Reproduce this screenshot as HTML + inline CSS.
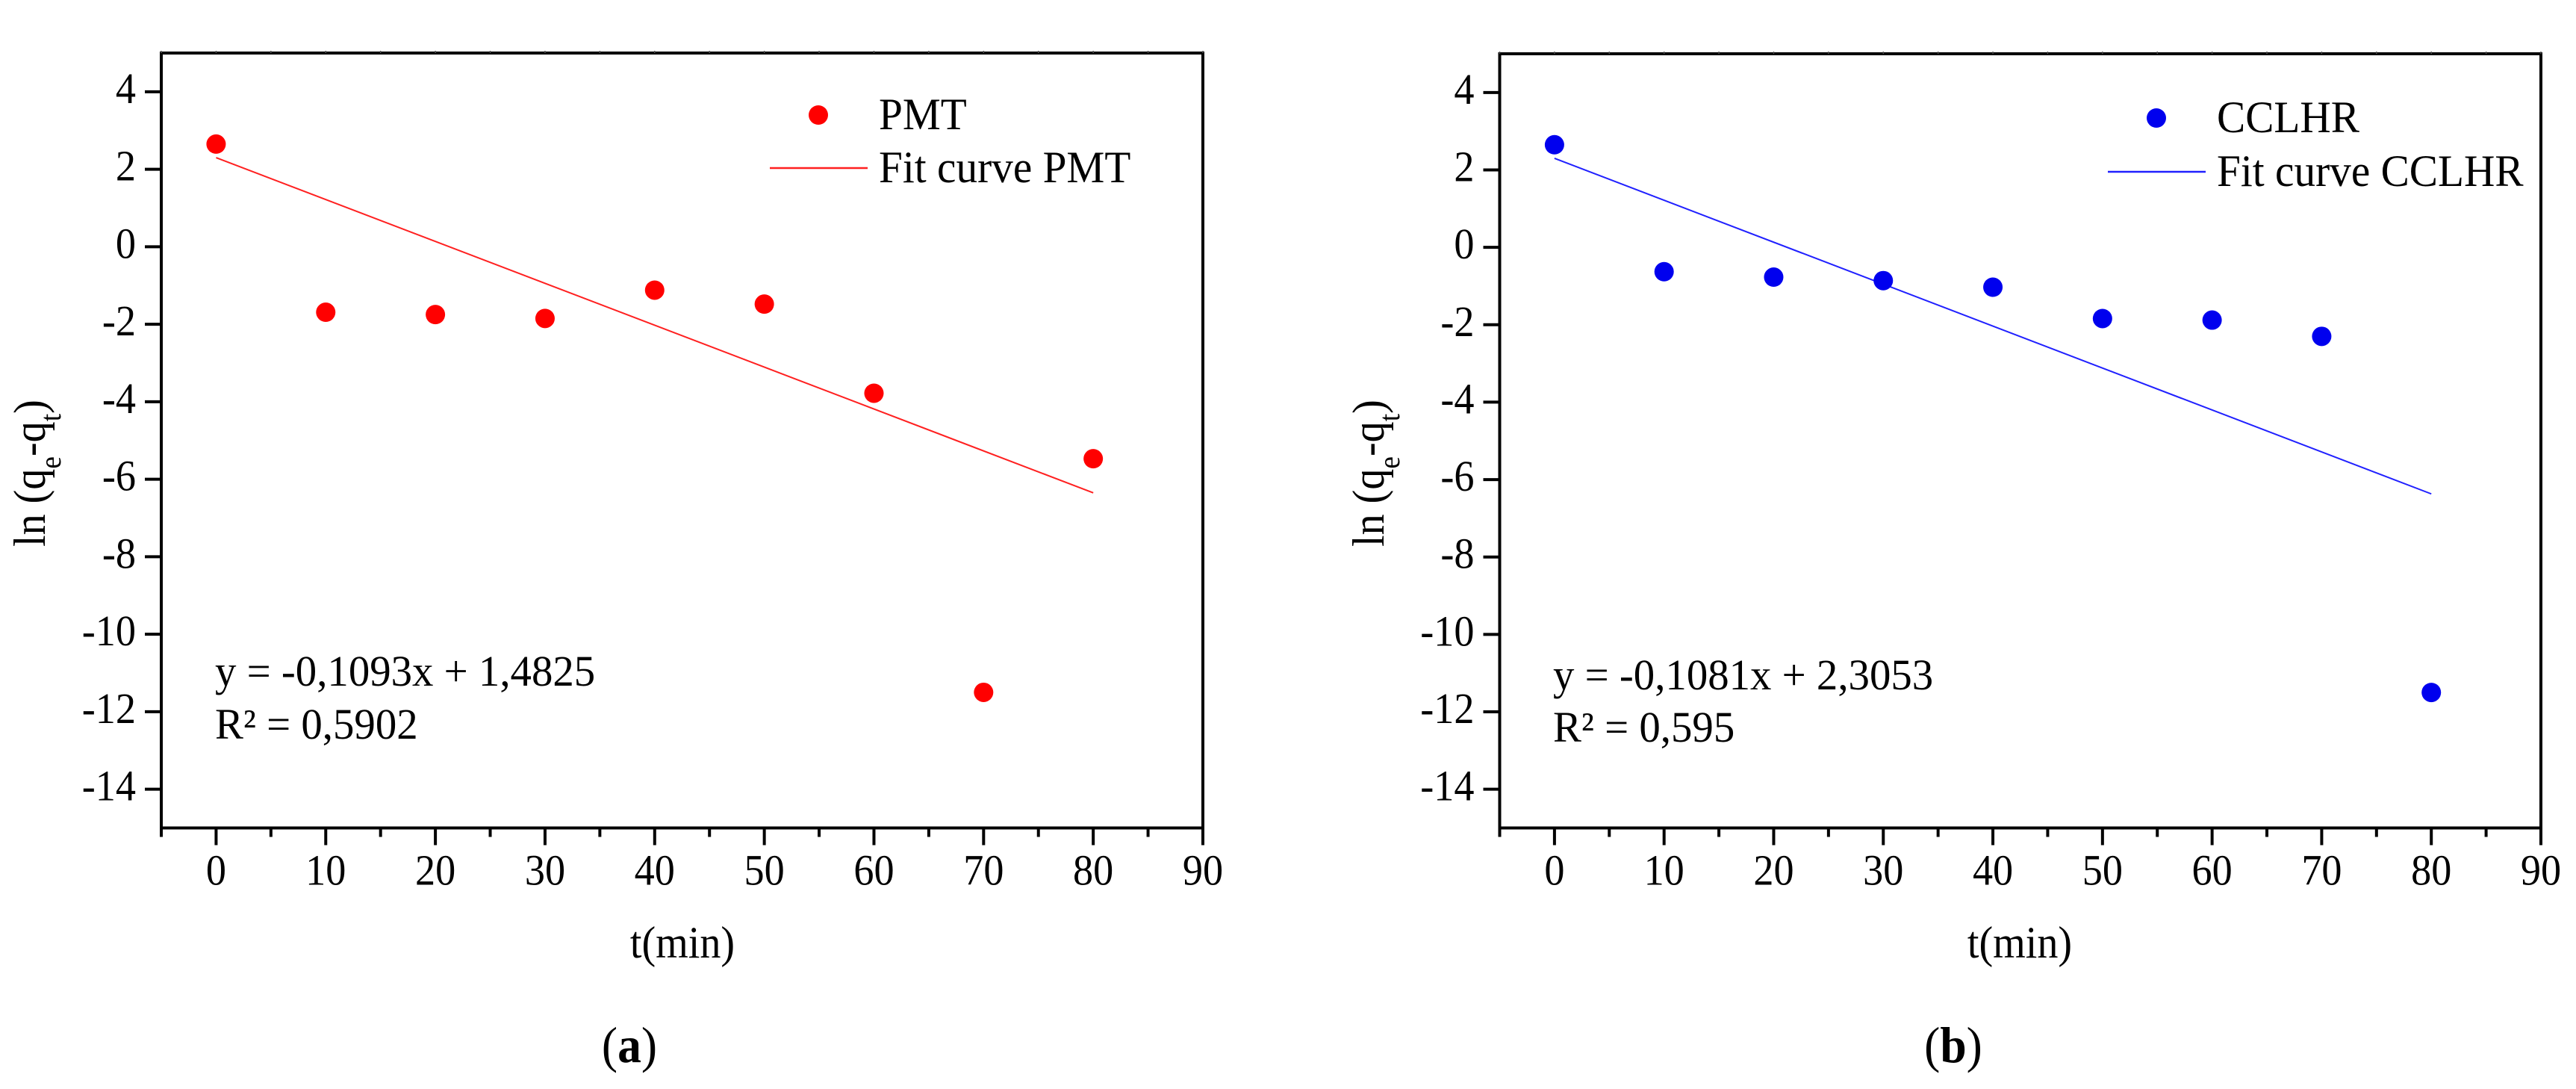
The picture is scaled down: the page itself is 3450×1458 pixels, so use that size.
<!DOCTYPE html>
<html lang="en">
<head>
<meta charset="utf-8">
<title>Pseudo-first-order kinetic fits for PMT and CCLHR</title>
<style>
html,body{margin:0;padding:0;background:#fff;}
body{width:3450px;height:1458px;overflow:hidden;}
svg{display:block;}
text{font-family:"Liberation Serif",serif;fill:#000;}
</style>
</head>
<body>
<svg id="figure" xmlns="http://www.w3.org/2000/svg" width="3450" height="1458" viewBox="0 0 3450 1458"></svg>
<script>
const times = [0, 10, 20, 30, 40, 50, 60, 70, 80];
const pmtValues = [2.65, -1.69, -1.75, -1.85, -1.12, -1.48, -3.78, -11.5, -5.47];
const cclhrValues = [2.65, -0.63, -0.77, -0.86, -1.03, -1.84, -1.88, -2.3, -11.5];
const fitTimes = [0, 80];
const pmtFit = [2.3, -6.35];
const cclhrFit = [2.3, -6.37];
const xTickValues = [-5, 0, 5, 10, 15, 20, 25, 30, 35, 40, 45, 50, 55, 60, 65, 70, 75, 80, 85, 90];
const xTickLabels = ['0', '10', '20', '30', '40', '50', '60', '70', '80', '90'];
const yTickLabels = ['4', '2', '0', '-2', '-4', '-6', '-8', '-10', '-12', '-14'];

const NS = 'http://www.w3.org/2000/svg';
const svg = document.getElementById('figure');
const X_MIN = -5, X_MAX = 90, Y_MIN = -15, Y_MAX = 5;
const SX = 0.935;
const SX_LEGEND = 0.955;
const SX_EQ = 0.98;

function make(tag, parent, attrs) {
  const el = document.createElementNS(NS, tag);
  for (const k in attrs) el.setAttribute(k, attrs[k]);
  parent.appendChild(el);
  return el;
}
function addText(parent, str, x, y, size, anchor, name, sx) {
  const t = make('text', parent, {
    transform: 'translate(' + x + ' ' + y + ') scale(' + (sx || SX) + ' 1)',
    'font-size': size,
    'text-anchor': anchor
  });
  t.textContent = str;
  
  
  return t;
}
function addSpan(parent, str, size, dy, weight) {
  const s = make('tspan', parent, {'font-size': size, dy: dy});
  if (weight) s.setAttribute('font-weight', weight);
  s.textContent = str;
  return s;
}

function drawPanel(cfg) {
  const g = make('g', svg, {});
  
  

  const xScale = v => cfg.left + (v - X_MIN) / (X_MAX - X_MIN) * (cfg.right - cfg.left);
  const yScale = v => cfg.top + (Y_MAX - v) / (Y_MAX - Y_MIN) * (cfg.bottom - cfg.top);

  const frame = make('rect', g, {
    x: cfg.left, y: cfg.top,
    width: cfg.right - cfg.left, height: cfg.bottom - cfg.top,
    fill: 'none', stroke: '#000', 'stroke-width': 4
  });
  
  

  xTickValues.forEach(v => {
    const major = v % 10 === 0;
    const tick = make('line', g, {
      x1: xScale(v), x2: xScale(v),
      y1: cfg.bottom, y2: cfg.bottom + (major ? 23 : 12),
      stroke: '#000', 'stroke-width': 4
    });
    
    
    const topTick = make('line', g, {
      x1: xScale(v), x2: xScale(v),
      y1: cfg.top, y2: cfg.top - 3,
      stroke: '#555', 'stroke-width': 1.5
    });
    
    
  });
  xTickLabels.forEach(label => {
    addText(g, label, xScale(Number(label)), cfg.bottom + 76, 58, 'middle', 'x-tick-label');
  });
  yTickLabels.forEach(label => {
    const v = Number(label);
    const tick = make('line', g, {
      x1: cfg.left - 22, x2: cfg.left,
      y1: yScale(v), y2: yScale(v),
      stroke: '#000', 'stroke-width': 4
    });
    
    
    addText(g, label, cfg.left - 34, yScale(v) + 15, 58, 'end', 'y-tick-label');
  });

  const fit = make('polyline', g, {
    points: fitTimes.map((t, i) => xScale(t) + ',' + yScale(cfg.fit[i])).join(' '),
    fill: 'none', stroke: cfg.color, 'stroke-width': 2
  });
  
  

  times.forEach((t, i) => {
    const c = make('circle', g, {cx: xScale(t), cy: yScale(cfg.values[i]), r: 13, fill: cfg.dot});
    
    
  });

  const legendDot = make('circle', g, {cx: cfg.legDotX, cy: cfg.legY1 - 19, r: 13, fill: cfg.dot});
  
  
  addText(g, cfg.series, cfg.legTextX, cfg.legY1, 60, 'start', 'legend-label-series', SX_LEGEND);
  const legendLine = make('line', g, {
    x1: cfg.legDotX - 65, x2: cfg.legDotX + 66,
    y1: cfg.legY2 - 19, y2: cfg.legY2 - 19,
    stroke: cfg.color, 'stroke-width': 2.5
  });
  
  
  addText(g, 'Fit curve ' + cfg.series, cfg.legTextX, cfg.legY2, 60, 'start', 'legend-label-fit', SX_LEGEND);

  addText(g, cfg.equation, cfg.eqX, cfg.eqY1, 58, 'start', 'fit-equation', SX_EQ);
  addText(g, cfg.r2, cfg.eqX, cfg.eqY2, 58, 'start', 'r-squared', SX_EQ);

  addText(g, 't(min)', cfg.xTitleX, 1282, 60, 'middle', 'x-axis-title');

  const yTitle = make('text', g, {
    transform: 'translate(' + cfg.yTitleX + ' 732) rotate(-90) scale(' + SX + ' 1)',
    'font-size': 60
  });
  
  
  addSpan(yTitle, 'ln (q', 60, 0);
  addSpan(yTitle, 'e', 40, 21);
  addSpan(yTitle, '-q', 60, -21);
  addSpan(yTitle, 't', 40, 21);
  addSpan(yTitle, ')', 60, -21);

  const caption = make('text', g, {
    transform: 'translate(' + cfg.capX + ' 1422) scale(' + SX + ' 1)',
    'font-size': 68,
    'text-anchor': 'middle'
  });
  
  
  addSpan(caption, '(', 68, 0);
  addSpan(caption, cfg.letter, 68, 0, 'bold');
  addSpan(caption, ')', 68, 0);
}

drawPanel({
  id: 'pmt', series: 'PMT', letter: 'a',
  left: 216, right: 1611, top: 71, bottom: 1108.5,
  values: pmtValues, fit: pmtFit, color: '#ff2020', dot: '#ff0000',
  legDotX: 1096, legTextX: 1177, legY1: 173, legY2: 244,
  equation: 'y = -0,1093x + 1,4825', r2: 'R² = 0,5902',
  eqX: 288, eqY1: 918, eqY2: 989,
  xTitleX: 914, yTitleX: 60, capX: 843
});
drawPanel({
  id: 'cclhr', series: 'CCLHR', letter: 'b',
  left: 2008.5, right: 3403, top: 72, bottom: 1108.5,
  values: cclhrValues, fit: cclhrFit, color: '#2020ff', dot: '#0000ee',
  legDotX: 2888, legTextX: 2969, legY1: 177, legY2: 249,
  equation: 'y = -0,1081x + 2,3053', r2: 'R² = 0,595',
  eqX: 2080, eqY1: 923, eqY2: 993,
  xTitleX: 2705, yTitleX: 1853, capX: 2616
});
</script>
</body>
</html>
